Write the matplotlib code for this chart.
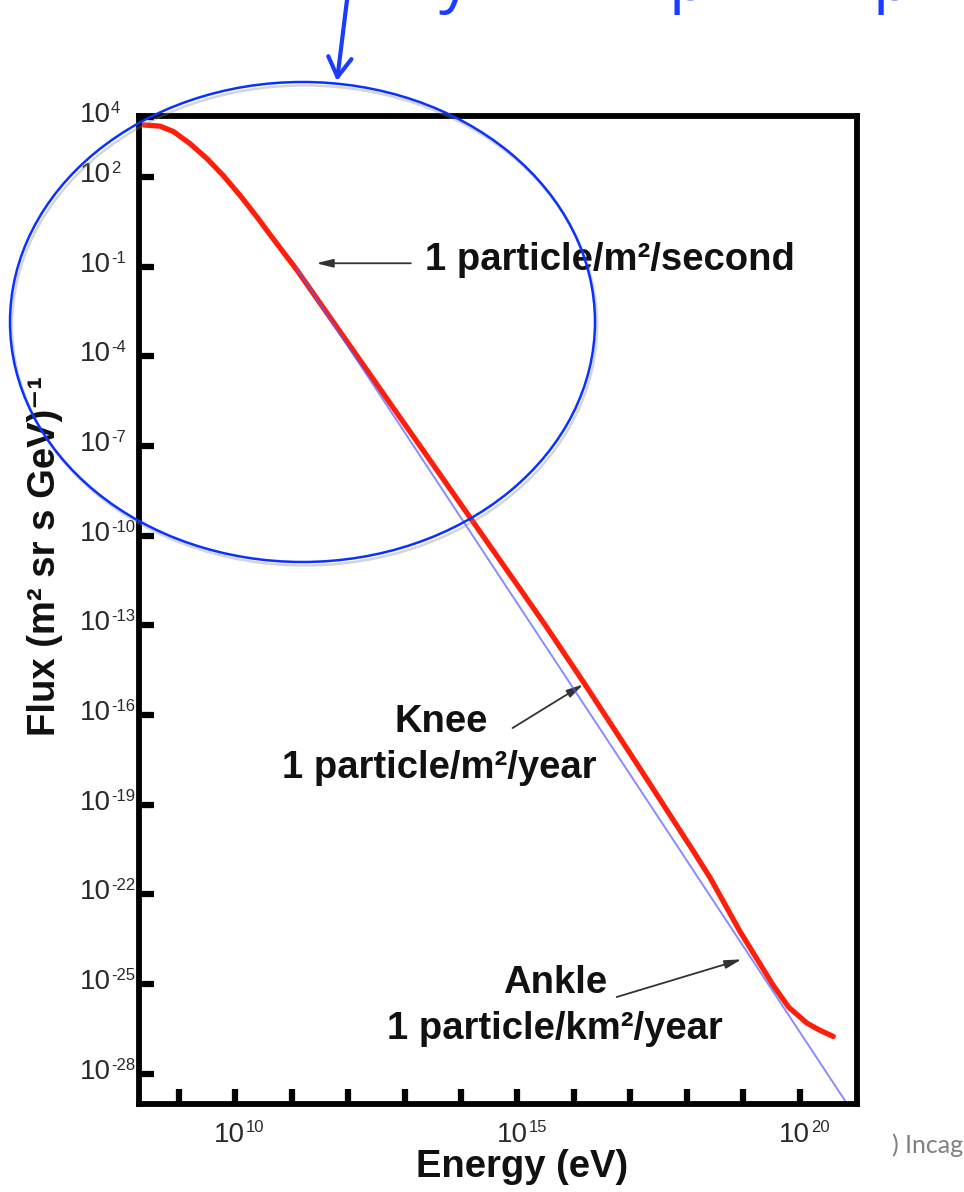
import numpy as np
import matplotlib.pyplot as plt
import matplotlib.patheffects as pe
from matplotlib.patches import Ellipse, FancyArrowPatch

plt.rcParams['font.family'] = ['Liberation Sans', 'DejaVu Sans']

# all-particle cosmic ray spectrum, log10(E / eV) and log10(flux)
spectrum_log_e = np.array([8.38, 8.67, 8.91, 9.20, 9.50, 9.79, 10.09, 10.38, 10.68,
                           11.09, 11.86, 12.74, 13.63, 14.51, 15.04, 15.50, 16.16,
                           17.17, 18.11, 18.41, 18.94, 19.53, 19.80, 20.12, 20.35, 20.59])
spectrum_log_flux = np.array([3.74, 3.70, 3.52, 3.12, 2.62, 2.05, 1.38, 0.68, -0.08,
                              -1.10, -3.18, -5.56, -7.96, -10.34, -11.77, -13.02, -14.88,
                              -17.80, -20.55, -21.45, -23.25, -25.06, -25.78, -26.31, -26.55, -26.76])

# single power law for comparison
powerlaw_log_e = np.array([11.09, 20.83])
powerlaw_log_flux = np.array([-1.06, -29.0])

x_tick_exp = list(range(9, 21))
x_labelled_exp = [10, 15, 20]
y_tick_exp = [4, 2, -1, -4, -7, -10, -13, -16, -19, -22, -25, -28]

W, H = 964, 1192
PT = 0.72  # points per pixel at 100 dpi
fig = plt.figure(figsize=(W / 100, H / 100), dpi=100)
ax = fig.add_axes([139 / W, 1 - 1104 / H, 718 / W, 988 / H])
ax.set_xscale('log')
ax.set_yscale('log')
ax.set_xlim(10 ** 8.30, 10 ** 21.01)
ax.set_ylim(10 ** -29.02, 10 ** 4.04)

ax.plot(10 ** spectrum_log_e, 10 ** spectrum_log_flux, color='#ff1e0a', lw=3.8,
        solid_capstyle='round', solid_joinstyle='round', zorder=3)
ax.plot(10 ** powerlaw_log_e, 10 ** powerlaw_log_flux, color='#5a5aff', lw=1.4,
        alpha=0.7, zorder=4)

ax.set_xticks([10.0 ** e for e in x_tick_exp])
ax.set_yticks([10.0 ** e for e in y_tick_exp])
ax.minorticks_off()
ax.tick_params(axis='both', direction='in', length=11, width=4.5, color='black',
               labelbottom=False, labelleft=False)
for s in ax.spines.values():
    s.set_linewidth(4.2)
    s.set_zorder(5)

# power-of-ten tick labels with small raised exponents
lab = dict(textcoords='offset points', color='#2a2a2a')
for e in y_tick_exp:
    pos = (0, 10.0 ** e)
    ax.annotate('10', pos, xycoords=ax.get_yaxis_transform(), xytext=(-59 * PT, -5 * PT),
                ha='left', va='baseline', fontsize=20, **lab)
    ax.annotate(str(e), pos, xycoords=ax.get_yaxis_transform(), xytext=(-28 * PT, 16 * PT),
                ha='left', va='top', fontsize=12, **lab)
for e in x_labelled_exp:
    pos = (10.0 ** e, 0)
    ax.annotate('10', pos, xycoords=ax.get_xaxis_transform(), xytext=(10 * PT, -38 * PT),
                ha='right', va='baseline', fontsize=20, **lab)
    ax.annotate(str(e), pos, xycoords=ax.get_xaxis_transform(), xytext=(11 * PT, -16 * PT),
                ha='left', va='top', fontsize=12, **lab)

# annotations
txt = dict(fontsize=27.5, fontweight='bold', color='#111111')
ax.text(10 ** 13.354, 10 ** -1.112, '1 particle/m²/second', ha='left', va='baseline', **txt)
ax.text(10 ** 13.642, 10 ** -16.564, 'Knee', ha='center', va='baseline', **txt)
ax.text(10 ** 13.61, 10 ** -18.124, '1 particle/m²/year', ha='center', va='baseline', **txt)
ax.text(10 ** 15.664, 10 ** -25.309, 'Ankle', ha='center', va='baseline', **txt)
ax.text(10 ** 15.655, 10 ** -26.849, '1 particle/km²/year', ha='center', va='baseline', **txt)

arrow = dict(arrowstyle='-|>,head_length=1.0,head_width=0.25', color='#333333',
             lw=1.3, shrinkA=0, shrinkB=0, mutation_scale=10)
ax.annotate('', xy=(10 ** 11.437, 10 ** -0.888), xytext=(10 ** 13.113, 10 ** -0.888), arrowprops=arrow)
ax.annotate('', xy=(10 ** 16.165, 10 ** -14.98), xytext=(10 ** 14.912, 10 ** -16.44), arrowprops=arrow)
ax.annotate('', xy=(10 ** 18.968, 10 ** -24.18), xytext=(10 ** 16.756, 10 ** -25.44), arrowprops=arrow)

# axis titles
fig.text(45 / W, 1 - 556 / H, 'Flux (m² sr s GeV)⁻¹', rotation=90, ha='center', va='center',
         fontsize=27.5, fontweight='bold', color='#111111')
fig.text(522 / W, 1 - 1177 / H, 'Energy (eV)', ha='center', va='baseline',
         fontsize=27.5, fontweight='bold', color='#111111')

# slide overlay: highlight ellipse and pointer
blue = '#1a3cff'
ring = Ellipse((302.5 / W, 1 - 322 / H), 585 / W, 480 / H, transform=fig.transFigure,
               fill=False, edgecolor='#0a32ff', lw=1.8, zorder=10)
ring.set_path_effects([pe.SimpleLineShadow(offset=(1.5, -2.5), shadow_color='#888888', alpha=0.35),
                       pe.Normal()])
fig.add_artist(ring)
fig.add_artist(FancyArrowPatch((347 / W, 1.0), (337 / W, 1 - 81 / H), transform=fig.transFigure,
                               arrowstyle='->,head_length=1.0,head_width=0.6', mutation_scale=14,
                               color=blue, lw=3, shrinkA=0, shrinkB=0, zorder=10))

# slide title sits above the frame, only its descenders reach into view
for ch, x0 in [('y', 439), ('p', 668), ('p', 872)]:
    fig.text(x0 / W, 1 - 15 / H, ch, ha='left', va='bottom', fontsize=46, color=blue,
             family='Open Sans')
fig.text(963 / W, 1 - 1153 / H, ') Incag', ha='right', va='baseline', fontsize=18,
         color='#808080', family='Lato')

fig.savefig('out.png', dpi=100, facecolor='white')
